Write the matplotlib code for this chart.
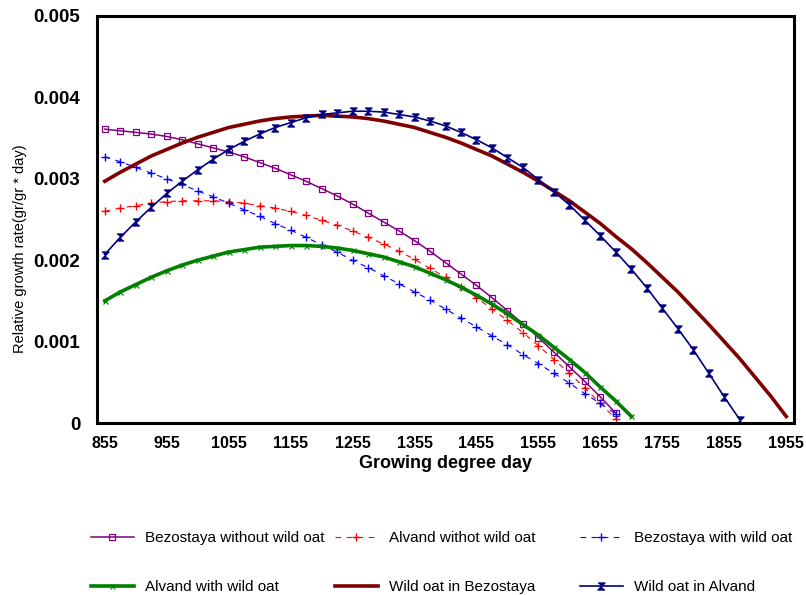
import numpy as np
import matplotlib
matplotlib.use('Agg')
import matplotlib.pyplot as plt

# growing degree day categories (every 25 GDD)
gdd = np.arange(855, 1956, 25)

# relative growth rate, in 1e-3 gr/gr*day
bez_without = [3.61, 3.59, 3.57, 3.55, 3.52, 3.48, 3.43, 3.38, 3.33, 3.27, 3.20, 3.13,
               3.05, 2.97, 2.88, 2.79, 2.69, 2.58, 2.47, 2.36, 2.24, 2.11, 1.97, 1.83,
               1.69, 1.54, 1.38, 1.22, 1.05, 0.87, 0.69, 0.51, 0.32, 0.12]
alv_without = [2.60, 2.64, 2.67, 2.70, 2.72, 2.73, 2.73, 2.73, 2.72, 2.70, 2.67, 2.64,
               2.60, 2.55, 2.49, 2.43, 2.36, 2.28, 2.20, 2.11, 2.01, 1.90, 1.79, 1.67,
               1.54, 1.40, 1.26, 1.11, 0.95, 0.78, 0.61, 0.43, 0.24, 0.05]
bez_with = [3.27, 3.21, 3.14, 3.07, 3.00, 2.93, 2.85, 2.78, 2.70, 2.62, 2.54, 2.45,
            2.37, 2.28, 2.19, 2.10, 2.00, 1.91, 1.81, 1.71, 1.61, 1.51, 1.40, 1.29,
            1.18, 1.07, 0.96, 0.84, 0.73, 0.61, 0.49, 0.36, 0.24, 0.11]
alv_with = [1.50, 1.61, 1.70, 1.79, 1.87, 1.94, 2.00, 2.05, 2.10, 2.13, 2.16, 2.17,
            2.18, 2.18, 2.17, 2.15, 2.12, 2.08, 2.04, 1.98, 1.92, 1.84, 1.76, 1.67,
            1.57, 1.46, 1.34, 1.21, 1.08, 0.93, 0.78, 0.62, 0.44, 0.27, 0.08]
oat_bez = [2.97, 3.08, 3.18, 3.28, 3.36, 3.44, 3.51, 3.57, 3.63, 3.67, 3.71, 3.74,
           3.76, 3.77, 3.78, 3.77, 3.76, 3.74, 3.71, 3.67, 3.63, 3.57, 3.51, 3.44,
           3.36, 3.28, 3.18, 3.08, 2.97, 2.85, 2.73, 2.59, 2.45, 2.29, 2.14, 1.97,
           1.79, 1.61, 1.41, 1.21, 1.00, 0.79, 0.56, 0.33, 0.08]
oat_alv = [2.07, 2.28, 2.47, 2.65, 2.82, 2.97, 3.11, 3.24, 3.36, 3.46, 3.55, 3.63,
           3.69, 3.75, 3.79, 3.81, 3.83, 3.83, 3.82, 3.79, 3.76, 3.71, 3.65, 3.57,
           3.48, 3.38, 3.26, 3.14, 2.99, 2.84, 2.68, 2.49, 2.30, 2.10, 1.89, 1.66,
           1.41, 1.16, 0.90, 0.61, 0.32, 0.04]

yticks = [0, 0.001, 0.002, 0.003, 0.004, 0.005]
ytick_labels = ['0', '0.001', '0.002', '0.003', '0.004', '0.005']

hourglass = [(-1, 1), (1, 1), (-1, -1), (1, -1)]

fig = plt.figure(figsize=(8.06, 5.95), dpi=100)
ax = fig.add_axes([97 / 806, 172 / 595, 697 / 806, 407 / 595])


def series(vals):
    v = np.array(vals) * 1e-3
    return gdd[:len(v)], v


x, y = series(bez_without)
l1, = ax.plot(x, y, color='#800080', lw=1.1, marker='s', ms=5, mfc='none', mew=0.9)
x, y = series(alv_without)
l2, = ax.plot(x, y, color='#ff0000', lw=0.8, ls=(0, (5, 5)), marker='+', ms=6, mew=1)
x, y = series(bez_with)
l3, = ax.plot(x, y, color='#0000ff', lw=0.8, ls=(0, (5, 5)), marker='+', ms=6, mew=1)
x, y = series(alv_with)
l4, = ax.plot(x, y, color='#008000', lw=2.6, marker='x', ms=3.6, mew=0.8)
x, y = series(oat_bez)
l5, = ax.plot(x, y, color='#800000', lw=2.6)
x, y = series(oat_alv)
l6, = ax.plot(x, y, color='#000080', lw=1.2, marker=hourglass, ms=5)

ax.set_xlim(842.5, 1967.5)
ax.set_ylim(0, 0.005)
ax.set_xticks(np.arange(855, 1956, 100))
ax.set_yticks(yticks)
ax.set_yticklabels(ytick_labels)
ax.tick_params(length=0)
ax.tick_params(axis='x', pad=9, labelsize=11.5)
ax.tick_params(axis='y', pad=12, labelsize=13.5)
for lab in ax.get_xticklabels() + ax.get_yticklabels():
    lab.set_fontweight('bold')
    lab.set_family('Liberation Sans')
for s in ax.spines.values():
    s.set_linewidth(2.2)
    s.set_color('black')

ax.set_xlabel('Growing degree day', fontsize=13, fontweight='bold',
              family='Liberation Sans', labelpad=3)
fig.text(20 / 806, 1 - 249 / 595, 'Relative growth rate(gr/gr * day)', rotation=90,
         ha='center', va='center', fontsize=10.5, family='Liberation Sans')

leg_font = {'family': 'Liberation Sans', 'size': 11}
cols = [([l1, l4], ['Bezostaya without wild oat', 'Alvand with wild oat'], 91),
        ([l2, l5], ['Alvand withot wild oat', 'Wild oat in Bezostaya'], 335),
        ([l3, l6], ['Bezostaya with wild oat', 'Wild oat in Alvand'], 580)]
for handles, labels, xpos in cols:
    fig.legend(handles, labels, loc='upper left', bbox_to_anchor=(xpos / 806, 1 - 531 / 595),
               frameon=False, prop=leg_font, numpoints=1, handlelength=2.8,
               handletextpad=0.72, borderpad=0, borderaxespad=0, labelspacing=2.3)

fig.savefig('out.png', dpi=100)
